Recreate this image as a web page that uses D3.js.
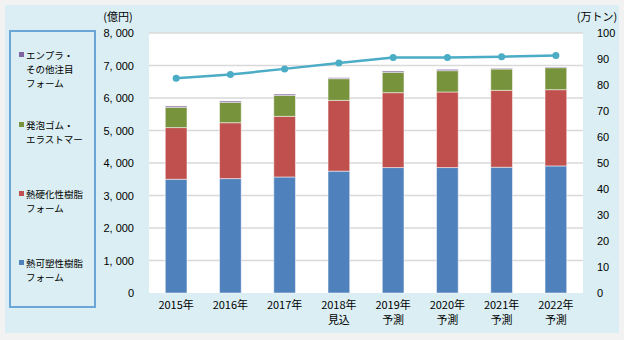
<!DOCTYPE html>
<html><head><meta charset="utf-8">
<script src="https://cdn.jsdelivr.net/npm/d3@7"></script>
<style>
html,body{margin:0;padding:0;background:#fff;}
svg text{font-family:"Noto Sans CJK JP","Noto Sans",sans-serif;fill:#000;}
</style></head>
<body><svg id="c" width="624" height="340"></svg>
<script>
const categories = [["2015年"],["2016年"],["2017年"],["2018年","見込"],["2019年","予測"],["2020年","予測"],["2021年","予測"],["2022年","予測"]];
const thermoplastic = [3500,3520,3570,3750,3860,3860,3870,3910];
const thermoset     = [1590,1720,1866,2178,2304,2325,2366,2346];
const rubber        = [623,627,646,667,626,656,656,677];
const engplastic    = [41,41,41,31,41,41,21,21];
const volume        = [82.6,84.0,86.2,88.5,90.6,90.6,90.9,91.3];
const leftTicks = [0,1000,2000,3000,4000,5000,6000,7000,8000];
const rightTicks = [0,10,20,30,40,50,60,70,80,90,100];
const seriesNames = ["熱可塑性樹脂\nフォーム","熱硬化性樹脂\nフォーム","発泡ゴム・\nエラストマー","エンプラ・\nその他注目\nフォーム"];
const colors = ["#4f81bd","#c0504d","#77933c","#8064a2"];

const svg = d3.select("#c");
svg.append("rect").attr("x",0).attr("y",0).attr("width",624).attr("height",340).attr("fill","#f2f2f2");
svg.append("rect").attr("x",5).attr("y",5).attr("width",614).attr("height",328).attr("fill","#daeef3");

const L=149,R=583,T=33,B=293;
svg.append("rect").attr("x",L).attr("y",T).attr("width",R-L).attr("height",B-T).attr("fill","#fff");

const x = d3.scaleBand().domain(d3.range(categories.length)).range([L,R]).paddingInner(0.6).paddingOuter(0.3);
const y = d3.scaleLinear().domain([0,8000]).range([B,T]);
const y2 = d3.scaleLinear().domain([0,100]).range([B,T]);

// grid
svg.append("g").selectAll("line").data(leftTicks.slice(1)).join("line")
  .attr("x1",L).attr("x2",R).attr("y1",d=>y(d)).attr("y2",d=>y(d))
  .attr("stroke","#d9d9d9").attr("stroke-width",1.5);

// axes
const fmt = d=> d===0?"0":d3.format(",")(d).replace(",",", ");
const gl = svg.append("g").attr("transform",`translate(${L},0)`)
  .call(d3.axisLeft(y).tickValues(leftTicks).tickFormat(fmt).tickSize(0).tickPadding(15));
gl.select(".domain").remove();
gl.selectAll("text").attr("font-size",11).attr("fill","#000").style("font-family","'Liberation Sans',Arial,sans-serif");
const gr = svg.append("g").attr("transform",`translate(${R},0)`)
  .call(d3.axisRight(y2).tickValues(rightTicks).tickSize(0).tickPadding(14));
gr.select(".domain").remove();
gr.selectAll("text").attr("font-size",11).attr("fill","#000").style("font-family","'Liberation Sans',Arial,sans-serif");

// stacked bars
const rows = categories.map((c,i)=>({i,a:thermoplastic[i],b:thermoset[i],c:rubber[i],d:engplastic[i]}));
const stack = d3.stack().keys(["a","b","c","d"])(rows);
svg.append("g").selectAll("g").data(stack).join("g").attr("fill",(d,k)=>colors[k])
  .selectAll("rect").data(d=>d).join("rect")
  .attr("x",d=>x(d.data.i)).attr("width",x.bandwidth())
  .attr("y",d=>y(d[1])).attr("height",d=>y(d[0])-y(d[1]))
  .attr("stroke","rgba(255,255,255,0.5)").attr("stroke-width",1);

// line
const cx = i=>x(i)+x.bandwidth()/2;
svg.append("path").datum(volume)
  .attr("d",d3.line().x((d,i)=>cx(i)).y(d=>y2(d)))
  .attr("fill","none").attr("stroke","#4bacc6").attr("stroke-width",2.5);
svg.append("g").selectAll("circle").data(volume).join("circle")
  .attr("cx",(d,i)=>cx(i)).attr("cy",d=>y2(d)).attr("r",3.5).attr("fill","#4bacc6");

// x labels
const xl = svg.append("g");
categories.forEach((lines,i)=>{
  lines.forEach((t,j)=>{
    xl.append("text").attr("x",cx(i)).attr("y",309+j*15).attr("text-anchor","middle")
      .attr("font-size",11).text(t);
  });
});

// units
svg.append("text").attr("x",118).attr("y",21).attr("text-anchor","middle").attr("font-size",11).text("(億円)");
svg.append("text").attr("x",597).attr("y",21).attr("text-anchor","middle").attr("font-size",11).text("(万トン)");

// legend
svg.append("rect").attr("x",10).attr("y",31).attr("width",85).attr("height",276)
  .attr("fill","none").attr("stroke","#6aa6d6").attr("stroke-width",2);
const legendY = [263,194,125,55];
seriesNames.forEach((n,k)=>{
  const ls = n.split("\n");
  svg.append("rect").attr("x",19).attr("y",legendY[k]-3).attr("width",5).attr("height",5).attr("fill",colors[k]);
  ls.forEach((t,j)=>{
    svg.append("text").attr("x",26).attr("y",legendY[k]+4+j*14).attr("font-size",9.5).text(t);
  });
});
</script></body></html>
